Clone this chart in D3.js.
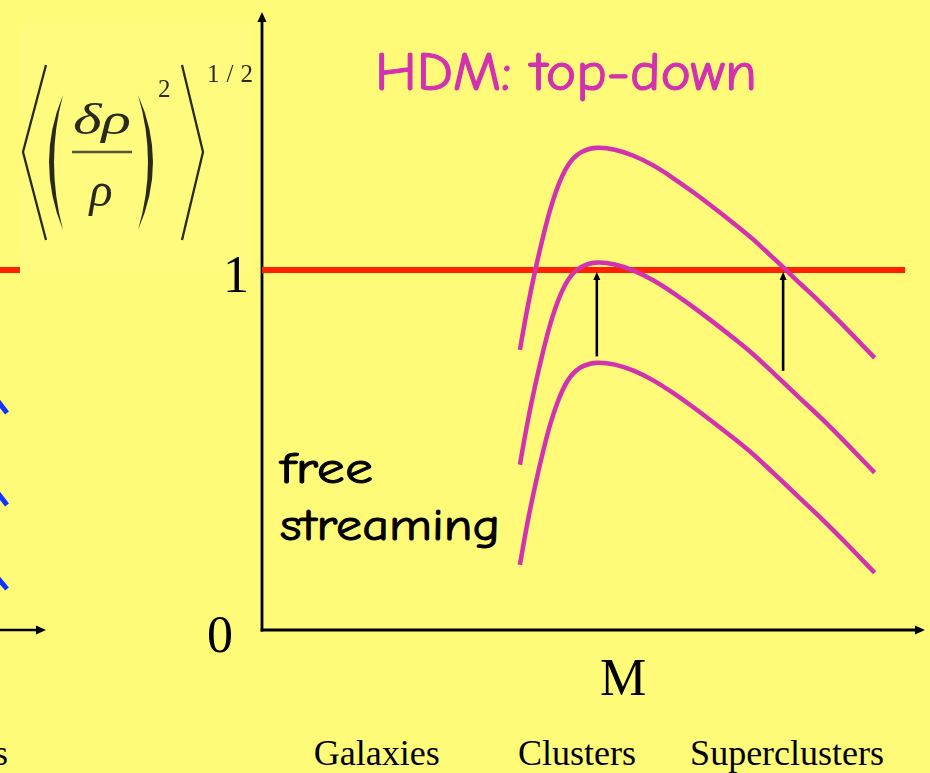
<!DOCTYPE html>
<html>
<head>
<meta charset="utf-8">
<script src="https://cdn.jsdelivr.net/npm/d3@7"></script>
<style>
  html, body { margin: 0; padding: 0; background: #FFFB79; }
  svg { display: block; }
</style>
</head>
<body>
<svg id="chart" width="930" height="773"></svg>
<script>
// ---- data -------------------------------------------------------------
// log-mass positions shared by the three fluctuation-amplitude curves
const massPoints = [3.89, 4.00, 4.12, 4.24, 4.34, 4.49, 4.65, 4.84, 5.05, 5.32, 5.60, 5.90,
                    6.20, 6.50, 6.80, 7.10, 7.41, 7.63, 7.86, 8.11, 8.42, 8.84, 9.24];
// rms density contrast <(δρ/ρ)²>^1/2, latest epoch first
const ampLate  = [0.778, 0.894, 1.000, 1.094, 1.167, 1.250, 1.306, 1.333, 1.342, 1.336, 1.319, 1.292,
                  1.256, 1.217, 1.175, 1.132, 1.086, 1.047, 1.008, 0.963, 0.911, 0.833, 0.756];
const ampMid   = [0.459, 0.575, 0.681, 0.775, 0.848, 0.931, 0.987, 1.014, 1.023, 1.017, 1.000, 0.973,
                  0.937, 0.898, 0.856, 0.813, 0.767, 0.728, 0.689, 0.644, 0.592, 0.514, 0.437];
const ampEarly = [0.181, 0.297, 0.403, 0.497, 0.570, 0.653, 0.709, 0.736, 0.745, 0.739, 0.722, 0.695,
                  0.659, 0.620, 0.578, 0.535, 0.489, 0.450, 0.411, 0.366, 0.314, 0.236, 0.159];
const seriesList = [ampLate, ampMid, ampEarly];

// non-linearity threshold
const threshold = 1;
// arrows: mass where a curve reaches the threshold, from amplitude to threshold
const arrowMass  = [5.05, 7.86];
const arrowStart = [0.76, 0.72];

// y tick labels
const yTickValues = [0, 1];
const yTickLabels = ["0", "1"];

// structure scales along the mass axis
const categories   = ["Galaxies", "Clusters", "Superclusters"];
const categoryMass = [1.73, 4.75, 7.92];

const title = "HDM: top-down";
const noteLines = ["free", "streaming"];
const xAxisLabel = "M";

// ---- layout -----------------------------------------------------------
const svg = d3.select("#chart");
const W = 930, H = 773;
const x = d3.scaleLinear().domain([0, 10]).range([262, 925]);
const y = d3.scaleLinear().domain([0, 1]).range([630, 270]);
const yTop = y.invert(12);

const ink = "#000";
const magenta = "#D231B0";
const red = "#FF2200";
const serif = "'Liberation Serif', 'Times New Roman', serif";
const comic = "'Comic Sans MS', 'Comic Neue', 'Open Sans', sans-serif";

svg.append("rect").attr("width", W).attr("height", H).attr("fill", "#FFFB79");

// ---- neighbouring panel, cut at the left edge --------------------------
const leftPanel = svg.append("g");
leftPanel.append("line")
  .attr("x1", 0).attr("x2", 20).attr("y1", y(threshold)).attr("y2", y(threshold))
  .attr("stroke", red).attr("stroke-width", 6);
[[403, 413], [495, 505], [580, 589]].forEach(([a, b]) => {
  leftPanel.append("line")
    .attr("x1", -3).attr("y1", a - 3).attr("x2", 7).attr("y2", b)
    .attr("stroke", "#1133FF").attr("stroke-width", 5);
});
leftPanel.append("line")
  .attr("x1", 0).attr("x2", 38).attr("y1", 630).attr("y2", 630)
  .attr("stroke", ink).attr("stroke-width", 2.5);
leftPanel.append("path").attr("d", "M46,630 L36,625.5 L36,634.5 Z").attr("fill", ink);
leftPanel.append("text").attr("x", -6).attr("y", 765)
  .attr("font-family", serif).attr("font-size", 36).attr("fill", ink).text("s");

// ---- formula label (y-axis title) -------------------------------------
const defs = svg.append("defs");
defs.append("filter").attr("id", "soft")
  .append("feGaussianBlur").attr("stdDeviation", 0.55);
const formula = svg.append("g");
formula.append("rect").attr("x", 20).attr("y", 22).attr("width", 234).attr("height", 256)
  .attr("fill", "#FFFB7F");
const fg = formula.append("g").attr("filter", "url(#soft)");
const fInk = "#2a2a1a";
// angle brackets
fg.append("path").attr("d", "M46,65 L23,152 L46,240")
  .attr("fill", "none").attr("stroke", fInk).attr("stroke-width", 2.3);
fg.append("path").attr("d", "M182,65 L203,152 L182,240")
  .attr("fill", "none").attr("stroke", fInk).attr("stroke-width", 2.3);
// parentheses
fg.append("path").attr("d", "M63,95 Q35,162 63,230 Q45,162 63,95 Z").attr("fill", fInk);
fg.append("path").attr("d", "M138,95 Q168,162 138,230 Q158,162 138,95 Z").attr("fill", fInk);
// fraction
fg.append("line").attr("x1", 72).attr("x2", 132).attr("y1", 152).attr("y2", 152)
  .attr("stroke", "#55553a").attr("stroke-width", 2.5);
fg.append("text").attr("x", 102).attr("y", 134).attr("text-anchor", "middle")
  .attr("font-family", serif).attr("font-style", "italic").attr("font-size", 44)
  .attr("textLength", 58).attr("lengthAdjust", "spacingAndGlyphs")
  .attr("fill", fInk).text("δρ");
fg.append("text").attr("x", 101).attr("y", 206).attr("text-anchor", "middle")
  .attr("font-family", serif).attr("font-style", "italic").attr("font-size", 48)
  .attr("fill", fInk).text("ρ");
fg.append("text").attr("x", 158).attr("y", 97)
  .attr("font-family", serif).attr("font-size", 25).attr("fill", fInk).text("2");
fg.append("text").attr("x", 207).attr("y", 82)
  .attr("font-family", serif).attr("font-size", 25)
  .attr("textLength", 46).attr("lengthAdjust", "spacing")
  .attr("fill", fInk).text("1/2");

// ---- axes ---------------------------------------------------------------
const axes = svg.append("g");
axes.append("line")
  .attr("x1", x(0)).attr("x2", x(0)).attr("y1", y(0) + 1.5).attr("y2", y(yTop) + 8)
  .attr("stroke", ink).attr("stroke-width", 2.8);
axes.append("path")
  .attr("d", `M${x(0)},${y(yTop)} L${x(0) - 4.5},${y(yTop) + 10} L${x(0) + 4.5},${y(yTop) + 10} Z`)
  .attr("fill", ink);
axes.append("line")
  .attr("x1", x(0) - 1.4).attr("x2", x(10) - 8).attr("y1", y(0)).attr("y2", y(0))
  .attr("stroke", ink).attr("stroke-width", 2.8);
axes.append("path")
  .attr("d", `M${x(10)},${y(0)} L${x(10) - 10},${y(0) - 4.5} L${x(10) - 10},${y(0) + 4.5} Z`)
  .attr("fill", ink);

// tick labels
const tickRight = [233, 249];
axes.selectAll("text.tick").data(yTickValues).join("text")
  .attr("class", "tick")
  .attr("x", (d, i) => tickRight[i])
  .attr("y", d => y(d) + 22)
  .attr("text-anchor", "end")
  .attr("font-family", serif).attr("font-size", 52)
  .attr("fill", ink)
  .text((d, i) => yTickLabels[i]);

// axis title and structure labels
axes.append("text").attr("x", 623).attr("y", 695).attr("text-anchor", "middle")
  .attr("font-family", serif).attr("font-size", 52).attr("fill", ink).text(xAxisLabel);
axes.selectAll("text.cat").data(categories).join("text")
  .attr("class", "cat")
  .attr("x", (d, i) => x(categoryMass[i]))
  .attr("y", 765)
  .attr("text-anchor", "middle")
  .attr("font-family", serif).attr("font-size", 36).attr("fill", ink)
  .text(d => d);

// ---- threshold line -----------------------------------------------------
svg.append("line")
  .attr("x1", x(0)).attr("x2", x(9.7)).attr("y1", y(threshold)).attr("y2", y(threshold))
  .attr("stroke", red).attr("stroke-width", 6);

// ---- curves -------------------------------------------------------------
const line = d3.line()
  .x(d => x(d[0]))
  .y(d => y(d[1]))
  .curve(d3.curveBasis);
svg.append("g").selectAll("path").data(seriesList).join("path")
  .attr("d", s => line(massPoints.map((m, i) => [m, s[i]])))
  .attr("fill", "none")
  .attr("stroke", magenta)
  .attr("stroke-width", 4.5);

// ---- arrows -------------------------------------------------------------
const arrows = svg.append("g");
arrowMass.forEach((m, i) => {
  const ax = x(m), y0 = y(arrowStart[i]), y1 = y(threshold) + 2;
  arrows.append("line").attr("x1", ax).attr("x2", ax).attr("y1", y0).attr("y2", y1 + 6)
    .attr("stroke", ink).attr("stroke-width", 2.6);
  arrows.append("path")
    .attr("d", `M${ax},${y1} L${ax - 3.5},${y1 + 8} L${ax + 3.5},${y1 + 8} Z`)
    .attr("fill", ink);
});

// ---- annotations --------------------------------------------------------
// regular weight, thickened slightly with a matching outline
svg.append("text").attr("x", 375).attr("y", 90)
  .attr("font-family", comic).attr("font-size", 54)
  .attr("stroke", magenta).attr("stroke-width", 1.1)
  .attr("textLength", 382).attr("lengthAdjust", "spacingAndGlyphs")
  .attr("fill", magenta).text(title);
const noteWidths = [93, 220];
svg.selectAll("text.note").data(noteLines).join("text")
  .attr("class", "note")
  .attr("x", 280)
  .attr("y", (d, i) => 483 + i * 57)
  .attr("font-family", comic).attr("font-size", 44)
  .attr("stroke", ink).attr("stroke-width", 1)
  .attr("textLength", (d, i) => noteWidths[i]).attr("lengthAdjust", "spacingAndGlyphs")
  .attr("fill", ink)
  .text(d => d);
</script>
</body>
</html>
